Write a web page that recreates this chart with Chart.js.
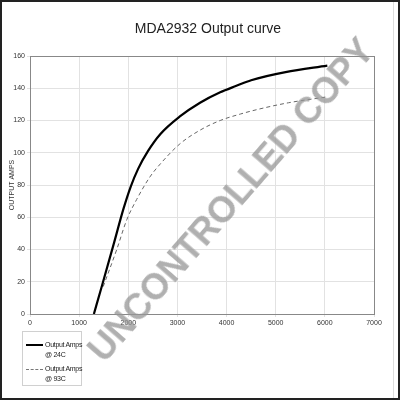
<!DOCTYPE html>
<html>
<head>
<meta charset="utf-8">
<script src="https://cdn.jsdelivr.net/npm/chart.js@4.4.1/dist/chart.umd.min.js"></script>
<style>
  html, body { margin: 0; padding: 0; background: #fff; }
  #wrap { position: relative; width: 400px; height: 400px; box-sizing: border-box; border: 2px solid #222; overflow: hidden; font-family: "Liberation Sans", Arial, sans-serif; }
  #chart { position: absolute; left: -2px; top: -2px; }
  #title { position: absolute; left: 0; width: 412px; top: 18px; text-align: center; font-size: 14px; color: #222; }
  #legend { position: absolute; left: 20px; top: 329px; width: 58px; height: 53px; border: 1px solid #d0d0d0; font-size: 7px; color: #222; letter-spacing: -0.3px; }
  .item { position: absolute; left: 0; }
  .swatch { position: absolute; left: 3px; width: 17px; }
  .lbl { position: absolute; left: 22px; line-height: 10px; white-space: nowrap; }
  #mark { position: absolute; left: 229px; top: 198px; transform: translate(-50%, -50%) rotate(-49deg); font-size: 36px; font-weight: bold; color: rgba(150,150,150,0.75); white-space: nowrap; pointer-events: none; }
  #edge { position: absolute; left: 391px; top: 0; width: 1px; height: 396px; background: #ddd; }
</style>
</head>
<body>
<div id="wrap">
  <canvas id="chart" width="400" height="400"></canvas>
  <div id="title">MDA2932 Output curve</div>
  <div id="legend">
    <div class="item" style="top:8px">
      <div class="swatch" style="top:4px; border-top: 2px solid #000;"></div>
      <div class="lbl">Output Amps<br>@ 24C</div>
    </div>
    <div class="item" style="top:32px">
      <div class="swatch" style="top:5px; border-top: 1px dashed #777;"></div>
      <div class="lbl">Output Amps<br>@ 93C</div>
    </div>
  </div>
  <div id="mark">UNCONTROLLED COPY</div>
  <div id="edge"></div>
</div>
<script>
// 回転数 (rpm) と出力電流 (A)
const rpm24 = [1300, 1450, 1700, 1900, 2050, 2200, 2400, 2650, 3050, 3460, 3870, 4200, 4500, 5200, 6050];
const amps24 = [0, 16, 43, 65, 79, 90, 101, 111.5, 122.5, 131, 137.5, 141.5, 145, 150, 154];
const rpm93 = [1490, 1765, 1970, 2170, 2440, 2650, 3050, 3460, 3870, 4280, 4650, 5260, 6010];
const amps93 = [17, 40, 58.5, 71, 85, 93, 105.5, 114, 120, 124, 127, 131, 134.5];
const xTicks = [0, 1000, 2000, 3000, 4000, 5000, 6000, 7000];
const yTicks = [0, 20, 40, 60, 80, 100, 120, 140, 160];

const toPoints = (xs, ys) => xs.map((x, i) => ({ x, y: ys[i] }));

// プロット領域の枠
const frame = {
  id: 'frame',
  afterDraw(chart) {
    const { ctx, chartArea: a } = chart;
    ctx.save();
    ctx.strokeStyle = '#888';
    ctx.lineWidth = 1;
    ctx.strokeRect(Math.round(a.left) + 0.5, Math.round(a.top) + 0.5, Math.round(a.right - a.left), Math.round(a.bottom - a.top));
    ctx.restore();
  },
};

const tickFont = { family: '"Liberation Sans", Arial, sans-serif', size: 7 };

new Chart(document.getElementById('chart'), {
  type: 'line',
  data: {
    datasets: [
      {
        label: 'Output Amps @ 24C',
        data: toPoints(rpm24, amps24),
        borderColor: '#000',
        borderWidth: 2.2,
        pointRadius: 0,
        cubicInterpolationMode: 'monotone',
      },
      {
        label: 'Output Amps @ 93C',
        data: toPoints(rpm93, amps93),
        borderColor: '#666',
        borderWidth: 1,
        borderDash: [4, 3],
        pointRadius: 0,
        cubicInterpolationMode: 'monotone',
      },
    ],
  },
  options: {
    responsive: false,
    animation: false,
    layout: { padding: { top: 56, right: 26, bottom: 66, left: 0 } },
    plugins: { legend: { display: false }, tooltip: { enabled: false } },
    scales: {
      x: {
        type: 'linear',
        min: 0,
        max: 7000,
        afterBuildTicks: axis => { axis.ticks = xTicks.map(v => ({ value: v })); },
        afterFit: axis => { axis.height = 20; },
        grid: { color: '#e2e2e2', tickLength: 3 },
        border: { color: '#888' },
        ticks: { color: '#333', font: tickFont, padding: 2, maxRotation: 0, callback: v => String(v) },
      },
      y: {
        min: 0,
        max: 160,
        afterBuildTicks: axis => { axis.ticks = yTicks.map(v => ({ value: v })); },
        afterFit: axis => { axis.width = 30; },
        grid: { color: '#e2e2e2', tickLength: 3 },
        border: { color: '#888' },
        title: { display: true, text: 'OUTPUT AMPS', color: '#333', font: tickFont, padding: { top: 8, bottom: 0 } },
        ticks: { color: '#333', font: tickFont, padding: 2 },
      },
    },
  },
  plugins: [frame],
});
</script>
</body>
</html>
